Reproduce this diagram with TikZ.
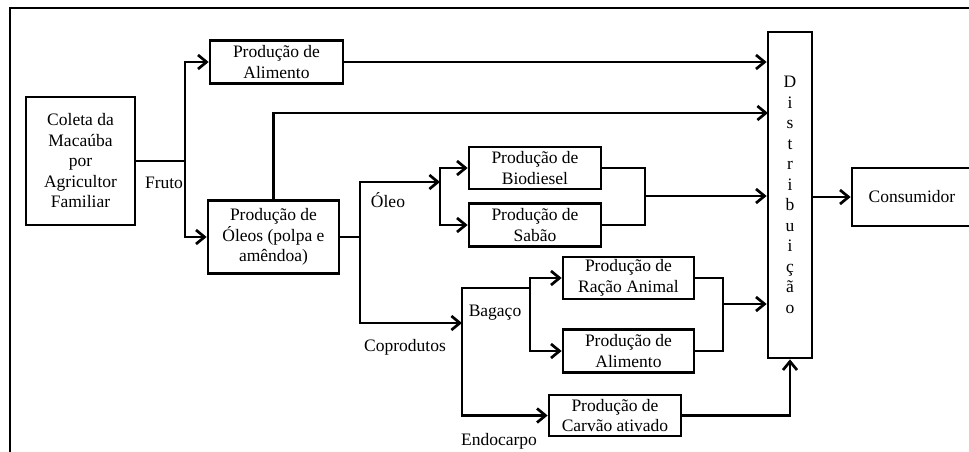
\documentclass[tikz,border=0pt]{standalone}
\usepackage{fontspec}
\setmainfont{Liberation Serif}
\usetikzlibrary{arrows.meta}
\begin{document}
\begin{tikzpicture}[x=1pt,y=-1pt,
  every node/.style={font=\fontsize{17.5}{20.5}\selectfont},
  box/.style={draw,line width=2.7pt,inner sep=0pt,align=center},
  lbl/.style={inner sep=0pt},
  conn/.style={line width=2.7pt},
  arr/.style={conn,-{Straight Barb[length=8.5pt,width=14pt]}}]
\useasboundingbox (0,0) rectangle (969,452);
% outer frame
\draw[line width=2.7pt] (10,470) -- (10,8) -- (990,8);

% process boxes
\node[box,minimum width=109,minimum height=128] (coleta) at (80.5,161) {Coleta da\\Macaúba\\por\\Agricultor\\Familiar};
\node[box,minimum width=133,minimum height=43] (alim1) at (276.5,62) {Produção de\\Alimento};
\node[box,minimum width=131,minimum height=73] (oleos) at (273.5,237) {Produção de\\Óleos (polpa e\\amêndoa)};
\node[box,minimum width=132,minimum height=42] (bio) at (535,168) {Produção de\\Biodiesel};
\node[box,minimum width=132,minimum height=43] (sabao) at (535,225) {Produção de\\Sabão};
\node[box,minimum width=131,minimum height=42] (racao) at (628.5,278) {Produção de\\Ração Animal};
\node[box,minimum width=131,minimum height=43] (alim2) at (628.5,351) {Produção de\\Alimento};
\node[box,minimum width=132,minimum height=41] (carvao) at (615,415.5) {Produção de\\Carvão ativado};
\node[box,minimum width=44,minimum height=326] (dist) at (790,195) {D\\i\\s\\t\\r\\i\\b\\u\\i\\ç\\ã\\o};
\node[box,minimum width=120,minimum height=58] (cons) at (912,197) {Consumidor};

% branch points
\coordinate (j1) at (185,161);
\coordinate (j2) at (360,237);
\coordinate (j3) at (440,182);
\coordinate (j4) at (645,196);
\coordinate (j5) at (462,323);
\coordinate (j6) at (530,288);
\coordinate (j7) at (723,304);
\coordinate (din2) at (768,113);

% connectors
\draw[conn] (coleta.east |- j1) -- (j1);
\draw[arr] (j1) |- (alim1.west);
\draw[arr] (j1) |- (oleos.west);
\draw[arr] (alim1.east) -- (alim1.east -| dist.west);
\draw[arr] (oleos.north) |- (din2);
\draw[conn] (oleos.east) -- (j2);
\draw[arr] (j2) |- (j3);
\draw[arr] (j3) |- (bio.west);
\draw[arr] (j3) |- (sabao.west);
\draw[conn] (bio.east) -| (j4);
\draw[conn] (sabao.east) -| (j4);
\draw[arr] (j4) -- (j4 -| dist.west);
\draw[arr] (j2) |- (j5);
\draw[conn] (j5) |- (j6);
\draw[arr] (j6) |- (racao.west);
\draw[arr] (j6) |- (alim2.west);
\draw[arr] (j5) |- (carvao.west);
\draw[conn] (racao.east) -| (j7);
\draw[conn] (alim2.east) -| (j7);
\draw[arr] (j7) -- (j7 -| dist.west);
\draw[arr] (carvao.east) -| (dist.south);
\draw[arr] (cons.west -| dist.east) -- (cons.west);

% flow labels
\node[lbl] (fruto) at (164,183) {Fruto};
\node[lbl] (oleo) at (388,200) {Óleo};
\node[lbl] (copr) at (405,347) {Coprodutos};
\node[lbl] (bagaco) at (495,313) {Bagaço};
\node[lbl] (endo) at (499,441) {Endocarpo};
\end{tikzpicture}
\end{document}
